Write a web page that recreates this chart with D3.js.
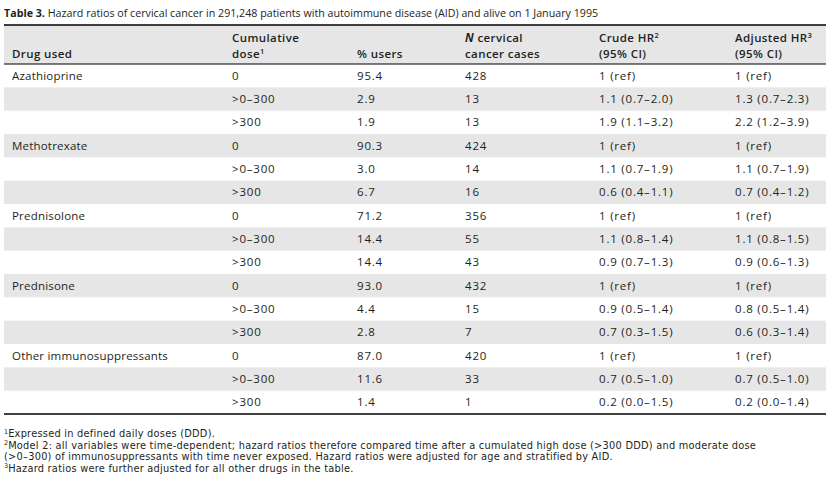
<!DOCTYPE html>
<html><head><meta charset="utf-8">
<script src="https://cdn.jsdelivr.net/npm/d3@7"></script>
<style>
body{margin:0;background:#fff;}
svg{display:block;font-family:"Open Sans",sans-serif;}
</style></head>
<body><svg id="c" width="831" height="496"></svg>
<script>
const titleBold = "Table 3.";
const titleRest = " Hazard ratios of cervical cancer in 291,248 patients with autoimmune disease (AID) and alive on 1 January 1995";
const drugs = ["Azathioprine","Methotrexate","Prednisolone","Prednisone","Other immunosuppressants"];
const doses = ["0",">0\u2013300",">300"];
const users = [95.4,2.9,1.9, 90.3,3.0,6.7, 71.2,14.4,14.4, 93.0,4.4,2.8, 87.0,11.6,1.4];
const cases = [428,13,13, 424,14,16, 356,55,43, 432,15,7, 420,33,1];
const crudeHR = ["1 (ref)","1.1 (0.7\u20132.0)","1.9 (1.1\u20133.2)",
  "1 (ref)","1.1 (0.7\u20131.9)","0.6 (0.4\u20131.1)",
  "1 (ref)","1.1 (0.8\u20131.4)","0.9 (0.7\u20131.3)",
  "1 (ref)","0.9 (0.5\u20131.4)","0.7 (0.3\u20131.5)",
  "1 (ref)","0.7 (0.5\u20131.0)","0.2 (0.0\u20131.5)"];
const adjustedHR = ["1 (ref)","1.3 (0.7\u20132.3)","2.2 (1.2\u20133.9)",
  "1 (ref)","1.1 (0.7\u20131.9)","0.7 (0.4\u20131.2)",
  "1 (ref)","1.1 (0.8\u20131.5)","0.9 (0.6\u20131.3)",
  "1 (ref)","0.8 (0.5\u20131.4)","0.6 (0.3\u20131.4)",
  "1 (ref)","0.7 (0.5\u20131.0)","0.2 (0.0\u20131.4)"];
const footnotes = [
  {sup:"1", lines:["Expressed in defined daily doses (DDD)."]},
  {sup:"2", lines:["Model 2: all variables were time-dependent; hazard ratios therefore compared time after a cumulated high dose (>300 DDD) and moderate dose",
                   "(>0\u2013300) of immunosuppressants with time never exposed. Hazard ratios were adjusted for age and stratified by AID."]},
  {sup:"3", lines:["Hazard ratios were further adjusted for all other drugs in the table."]}
];

const rows = [];
drugs.forEach((d,i)=>doses.forEach((ds,j)=>{
  const k=i*3+j;
  rows.push({drug:j===0?d:"", dose:ds, users:users[k].toFixed(1), cases:String(cases[k]), crude:crudeHR[k], adj:adjustedHR[k]});
}));

const svg = d3.select("#c");
const txt = "#231f20";
const shade = "#e6e6e6";
const L = 4, R = 826;
const cols = ["drug","dose","users","cases","crude","adj"];
const x = d3.scaleOrdinal().domain(cols).range([12,232,357,465,599,735]);
const y = d3.scaleBand().domain(d3.range(rows.length)).range([64,414]);

// title
const t = svg.append("text").attr("x",L).attr("y",17).attr("font-size",10.7).attr("fill",txt);
t.append("tspan").attr("font-weight",700).text(titleBold);
t.append("tspan").text(titleRest);

// header bg
svg.append("rect").attr("x",L).attr("y",25).attr("width",R-L).attr("height",39).attr("fill",shade);
// row shading
svg.selectAll("rect.row").data(rows).join("rect").attr("class","row")
  .attr("x",L).attr("y",(d,i)=>y(i)).attr("width",R-L).attr("height",y.bandwidth())
  .attr("fill",(d,i)=>i%2===1?shade:"none");

// rules
svg.append("line").attr("x1",L).attr("x2",R).attr("y1",25).attr("y2",25).attr("stroke","#000").attr("stroke-width",1.5);
svg.append("line").attr("x1",L).attr("x2",R).attr("y1",64).attr("y2",64).attr("stroke","#000").attr("stroke-width",1);
svg.append("line").attr("x1",L).attr("x2",R).attr("y1",414).attr("y2",414).attr("stroke","#000").attr("stroke-width",1.5);

// header
const hfs = 11.5;
const header = [
  {c:"drug", l1:[], l2:[{t:"Drug used"}]},
  {c:"dose", l1:[{t:"Cumulative"}], l2:[{t:"dose"},{t:"1",sup:true}]},
  {c:"users", l1:[], l2:[{t:"% users"}]},
  {c:"cases", l1:[{t:"N",it:true},{t:" cervical"}], l2:[{t:"cancer cases"}]},
  {c:"crude", l1:[{t:"Crude HR"},{t:"2",sup:true}], l2:[{t:"(95% CI)"}]},
  {c:"adj", l1:[{t:"Adjusted HR"},{t:"3",sup:true}], l2:[{t:"(95% CI)"}]}
];
header.forEach(h=>{
  [[h.l1,42],[h.l2,58.2]].forEach(([parts,yy])=>{
    if(!parts.length) return;
    const te = svg.append("text").attr("x",x(h.c)).attr("y",yy).attr("font-size",hfs)
      .attr("font-weight",600).attr("letter-spacing",0.4).attr("fill",txt);
    parts.forEach(p=>{
      const ts = te.append("tspan").text(p.t);
      if(p.it) ts.attr("font-style","italic").attr("font-weight",700);
      if(p.sup) ts.attr("font-size",7.5).attr("dy",-4.5);
    });
  });
});

// body
const bfs = 11.5;
const cells = svg.selectAll("g.r").data(rows).join("g").attr("class","r")
  .attr("transform",(d,i)=>`translate(0,${y(i)+y.bandwidth()/2+4})`);
cols.forEach(c=>{
  cells.append("text").attr("x",x(c)).attr("font-size",bfs)
    .attr("letter-spacing",c==="drug"?0.2:0.8).attr("fill",txt).text(d=>d[c]);
});

// footnotes
let fy = 437;
const ffs = 9.8;
footnotes.forEach(f=>{
  f.lines.forEach((ln,i)=>{
    const te = svg.append("text").attr("x",L).attr("y",fy).attr("font-family","'DejaVu Sans',sans-serif")
      .attr("font-size",ffs).attr("letter-spacing",0.25).attr("fill",txt);
    if(i===0){ te.append("tspan").attr("font-size",6.5).attr("letter-spacing",0).attr("dy",-3.5).text(f.sup); te.append("tspan").attr("dy",3.5).text(ln); }
    else te.text(ln);
    fy += 11.6;
  });
});
</script></body></html>
